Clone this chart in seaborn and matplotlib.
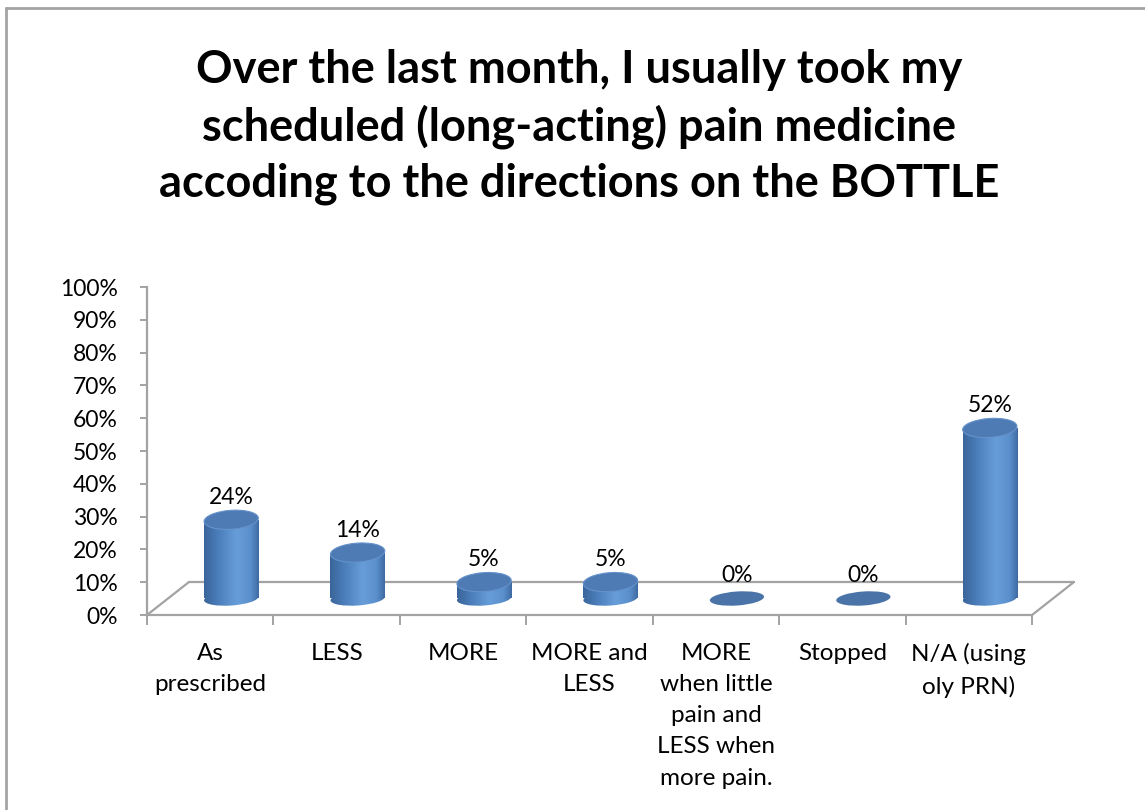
import numpy as np
import matplotlib
matplotlib.use("Agg")
import matplotlib.pyplot as plt
import seaborn as sns
from matplotlib.patches import Ellipse
from matplotlib.lines import Line2D
from matplotlib.colors import LinearSegmentedColormap
from matplotlib.ticker import PercentFormatter, FixedLocator
from matplotlib.transforms import offset_copy, ScaledTranslation

# ---- data -------------------------------------------------------------
categories = [
    "As\nprescribed",
    "LESS",
    "MORE",
    "MORE and\nLESS",
    "MORE\nwhen little\npain and\nLESS when\nmore pain.",
    "Stopped",
    "N/A (using\noly PRN)",
]
percent_values = [24, 14, 5, 5, 0, 0, 52]
title_text = ("Over the last month, I usually took my\n"
              "scheduled (long-acting) pain medicine\n"
              "accoding to the directions on the BOTTLE")

# ---- style ------------------------------------------------------------
sns.set_theme(style="white")
plt.rcParams["font.family"] = ["Lato", "DejaVu Sans"]

GRID_GREY = "#a3a3a3"
DEPTH_X, DEPTH_Y = 42, 33          # floor depth in pixels
DPI = 100

fig = plt.figure(figsize=(11.45, 8.1), dpi=DPI)
fig.patch.set_facecolor("white")

# outer chart frame (left and top edges)
fig.add_artist(Line2D([6 / 1145, 6 / 1145], [0, 1 - 8 / 810],
                      transform=fig.transFigure, color=GRID_GREY, lw=2))
fig.add_artist(Line2D([6 / 1145, 1], [1 - 8 / 810, 1 - 8 / 810],
                      transform=fig.transFigure, color=GRID_GREY, lw=2))

ax = fig.add_axes([147 / 1145, (810 - 615) / 810,
                   (1032 - 147) / 1145, (615 - 287) / 810])
ax.set_facecolor("none")

df_vals = [v / 100 for v in percent_values]
sns.barplot(x=categories, y=df_vals, ax=ax, width=0.43,
            color="#4f81bd", saturation=1, zorder=3)

ax.set_xlim(-0.5, len(categories) - 0.5)
ax.set_ylim(0, 1)

# transforms for the middle (bar) plane and the back plane of the floor
mid = offset_copy(ax.transData, fig=fig, x=DEPTH_X / 2, y=DEPTH_Y / 2, units="dots")
back = offset_copy(ax.transData, fig=fig, x=DEPTH_X, y=DEPTH_Y, units="dots")

# floor outline
ax.plot([-0.5, len(categories) - 0.5], [0, 0], transform=back,
        color=GRID_GREY, lw=1.6, clip_on=False, zorder=1)
for xe in (-0.5, len(categories) - 0.5):
    t = fig.dpi_scale_trans + ScaledTranslation(xe, 0, ax.transData)
    ax.add_line(Line2D([0, DEPTH_X / DPI], [0, DEPTH_Y / DPI], transform=t,
                       color=GRID_GREY, lw=1.6, clip_on=False, zorder=1))

# cylinder shading
cyl_cmap = LinearSegmentedColormap.from_list(
    "cyl", [(0.0, "#3a6599"), (0.25, "#4a7dba"), (0.6, "#679ed9"),
            (0.85, "#5a8fcd"), (1.0, "#3f6aa1")])
grad = np.linspace(0, 1, 256).reshape(1, -1)

px_per_unit = ax.transData.transform((1, 0))[0] - ax.transData.transform((0, 0))[0]
ELL_H = 14 / DPI
ELL_ANGLE = 4

for p, v in zip(ax.patches, df_vals):
    x0, w, h = p.get_x(), p.get_width(), p.get_height()
    xc = x0 + w / 2
    w_in = w * px_per_unit / DPI
    p.set_transform(mid)
    p.set_facecolor("none")
    p.set_edgecolor("none")
    p.set_clip_on(False)

    if h > 0:
        body = ax.imshow(grad, extent=(x0, x0 + w, -0.06, h), aspect="auto",
                         cmap=cyl_cmap, transform=mid, zorder=3,
                         interpolation="bilinear")
        body.set_clip_path(p)
        base_t = fig.dpi_scale_trans + ScaledTranslation(xc, 0, mid)
        base = Ellipse((0, 0), w_in, ELL_H, angle=ELL_ANGLE, transform=base_t,
                       facecolor="none", edgecolor="none")
        ax.add_patch(base)
        base.set_clip_on(False)
        bottom_img = ax.imshow(grad, extent=(x0, x0 + w, -0.06, h), aspect="auto",
                               cmap=cyl_cmap, transform=mid, zorder=3,
                               interpolation="bilinear")
        bottom_img.set_clip_path(base)
        top_t = fig.dpi_scale_trans + ScaledTranslation(xc, h, mid)
        top = Ellipse((0, 0), w_in, ELL_H * 1.35, angle=ELL_ANGLE, transform=top_t,
                      facecolor="#4e7bb4", edgecolor="#6592cb", lw=0.8,
                      zorder=4, clip_on=False)
        ax.add_patch(top)
    else:
        top_t = fig.dpi_scale_trans + ScaledTranslation(xc, 0, mid)
        top = Ellipse((0, 0), w_in, ELL_H, angle=ELL_ANGLE, transform=top_t,
                      facecolor="#4a74a8", edgecolor="none", zorder=4,
                      clip_on=False)
        ax.add_patch(top)

    ax.annotate(f"{round(v * 100)}%", xy=(xc, h), xycoords=mid,
                xytext=(0, 12), textcoords="offset pixels",
                ha="center", va="bottom", fontsize=16.5, color="black",
                zorder=5, annotation_clip=False)

# axes styling
for side in ("top", "right"):
    ax.spines[side].set_visible(False)
for side in ("left", "bottom"):
    ax.spines[side].set_color(GRID_GREY)
    ax.spines[side].set_linewidth(1.6)

ax.yaxis.set_major_locator(FixedLocator(np.linspace(0, 1, 11)))
ax.yaxis.set_major_formatter(PercentFormatter(1.0, decimals=0))
ax.tick_params(axis="y", which="major", left=True, length=5, width=1.4,
               color=GRID_GREY, pad=16, labelsize=16.5, labelcolor="black")

ax.set_xticks(range(len(categories)))
ax.set_xticks(np.arange(-0.5, len(categories), 1.0), minor=True)
ax.tick_params(axis="x", which="major", bottom=False, length=0, pad=20,
               labelsize=17.5, labelcolor="black")
ax.tick_params(axis="x", which="minor", bottom=True, length=7, width=1.4,
               color=GRID_GREY)
for lbl in ax.get_xticklabels():
    lbl.set_linespacing(1.6)
    lbl.set_verticalalignment("top")
ax.set_xlabel("")
ax.set_ylabel("")

fig.text(0.506, 1 - 127 / 810, title_text, ha="center", va="center",
         fontsize=32.5, fontweight="bold", linespacing=1.38, color="black")

fig.savefig("out.png", dpi=DPI, facecolor="white")
